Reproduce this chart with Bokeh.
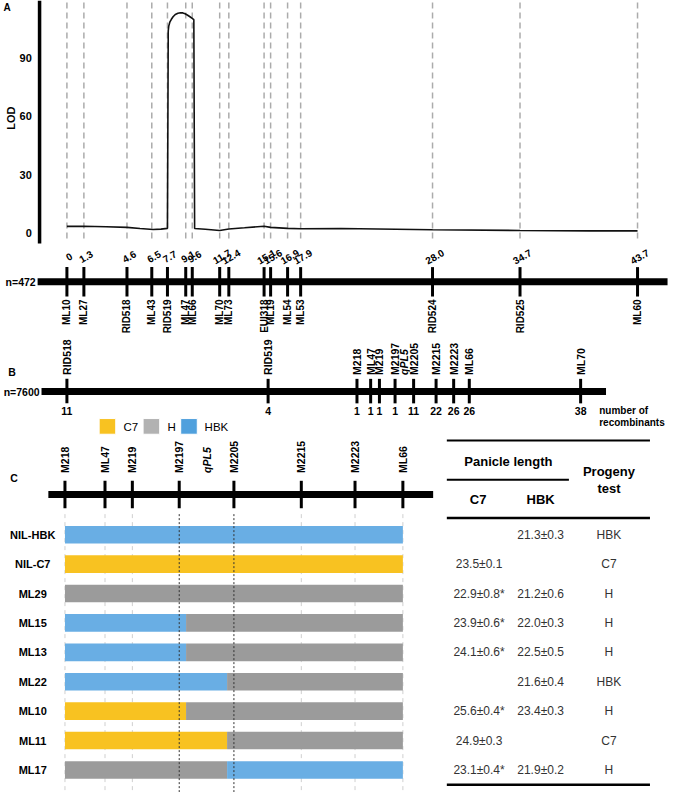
from bokeh.plotting import figure
from bokeh.models import Range1d
from bokeh.embed import file_html
from bokeh.resources import INLINE
from bokeh.core.properties import value
import math

# ---------------- DATA ----------------
# Panel A: genetic map (cM) and LOD profile
a_markers = ["ML10", "ML27", "RID518", "ML43", "RID519", "ML47", "ML66", "ML70", "ML73",
             "EUI318", "ML19", "ML54", "ML53", "RID524", "RID525", "ML60"]
a_cm = [0, 1.3, 4.6, 6.5, 7.7, 9.1, 9.6, 11.7, 12.4, 15.1, 15.6, 16.9, 17.9, 28.0, 34.7, 43.7]
a_cm_labels = ["0", "1.3", "4.6", "6.5", "7.7", "9.1", "9.6", "11.7", "12.4", "15.1", "15.6",
               "16.9", "17.9", "28.0", "34.7", "43.7"]
lod_cm = [0, 1.3, 3.0, 4.6, 5.6, 6.6, 7.2, 7.70, 7.76, 7.80, 7.88, 8.0, 8.13, 8.3, 8.5, 8.7,
          8.88, 9.05, 9.25, 9.45, 9.57, 9.72, 9.78, 10.6, 11.7, 12.4, 13.6, 15.1, 15.6, 16.9,
          17.9, 21.0, 28.0, 34.7, 40.0, 43.7]
lod_val = [3.3, 3.4, 3.1, 2.8, 2.2, 1.7, 1.9, 2.3, 104, 106.5, 108.5, 110, 111.3, 112.5, 113.1,
           113.4, 113.3, 112.9, 112.1, 111.2, 110.6, 109.8, 2.2, 1.8, 1.2, 2.0, 2.6, 3.4, 2.8,
           2.3, 2.1, 2.2, 1.6, 1.2, 1.0, 1.0]
lod_ticks = [0, 30, 60, 90]
a_n = "n=472"

# Panel B: fine map
b_markers = ["RID518", "RID519", "M218", "ML47", "M219", "M2197", "M2205", "M2215", "M2223",
             "ML66", "ML70"]
b_pos = [0, 206, 297, 311, 320, 336, 355, 378, 396, 412, 526]
b_recomb = ["11", "4", "1", "1", "1", "1", "11", "22", "26", "26", "38"]
b_qtl_pos = 345
b_n = "n=7600"

# Panel C: recombinant lines
c_markers = ["M218", "ML47", "M219", "M2197", "M2205", "M2215", "M2223", "ML66"]
c_pos = [0, 41, 69, 117, 173, 242, 297, 346]
c_qtl_pos = 145
lines = ["NIL-HBK", "NIL-C7", "ML29", "ML15", "ML13", "ML22", "ML10", "ML11", "ML17"]
seg_line = [0, 1, 2, 3, 3, 4, 4, 5, 5, 6, 6, 7, 7, 8, 8]
seg_start = [0, 0, 0, 0, 124, 0, 124, 0, 166, 0, 124, 0, 166, 0, 166]
seg_end = [346, 346, 346, 124, 346, 124, 346, 166, 346, 124, 346, 166, 346, 166, 346]
seg_geno = ["HBK", "C7", "H", "HBK", "H", "HBK", "H", "HBK", "H", "C7", "H", "C7", "H", "H", "HBK"]
genotypes = ["C7", "H", "HBK"]
geno_colors = {"C7": "#F8C221", "H": "#9B9B9B", "HBK": "#69AEE4"}
legend_colors = ["#F8C221", "#B2B2B2", "#4FA0DD"]

c7_len = ["", "23.5±0.1", "22.9±0.8*", "23.9±0.6*", "24.1±0.6*", "", "25.6±0.4*", "24.9±0.3", "23.1±0.4*"]
hbk_len = ["21.3±0.3", "", "21.2±0.6", "22.0±0.3", "22.5±0.5", "21.6±0.4", "23.4±0.3", "", "21.9±0.2"]
progeny = ["HBK", "C7", "H", "H", "H", "HBK", "H", "C7", "H"]

# ---------------- FIGURE ----------------
FONT = value("Liberation Sans")
p = figure(width=669, height=792, x_range=Range1d(0, 685), y_range=Range1d(808, 0),
           output_backend="svg", toolbar_location=None, x_axis_type=None, y_axis_type=None,
           min_border=0)
p.outline_line_color = None
p.background_fill_color = "white"
p.border_fill_color = "white"

px_per_cm = 13.37
p.extra_x_ranges = {
    "cm": Range1d(-68 / px_per_cm, (685 - 68) / px_per_cm),
    "b": Range1d(-68, 685 - 68),
    "c": Range1d(-66, 685 - 66),
}
p.extra_y_ranges = {
    "lod": Range1d((237 - 808) / 1.98, 237 / 1.98),
    "row": Range1d((808 - 545) / 30.0, (0 - 545) / 30.0),
}

def txt(x, y, t, size="10px", style="bold", align="left", base="middle", angle=0, color="black", **kw):
    p.text(x=x, y=y, text=t, text_font=FONT, text_font_size=size, text_font_style=style,
           text_align=align, text_baseline=base, angle=angle, text_color=color, **kw)

# ---------------- PANEL A ----------------
txt([3], [7], ["A"], size="10px")
# dashed guide lines
p.segment(x0=a_cm, x1=a_cm, y0=[2] * len(a_cm), y1=[247] * len(a_cm), x_range_name="cm",
          line_color="#ABABAB", line_width=1.5, line_dash="6 4")
# LOD axis
p.segment(x0=[40], x1=[40], y0=[0], y1=[248], line_color="black", line_width=3.5)
txt([32] * len(lod_ticks), lod_ticks, [str(v) for v in lod_ticks], size="11px", align="right",
    y_range_name="lod")
txt([11], [120], ["LOD"], size="11px", align="center", angle=math.pi / 2)
# LOD curve
p.line(lod_cm, lod_val, x_range_name="cm", y_range_name="lod", line_color="#111111", line_width=1.6)

# genetic map
p.segment(x0=[38], x1=[683], y0=[287], y1=[287], line_color="black", line_width=7)
p.segment(x0=a_cm, x1=a_cm, y0=[272] * len(a_cm), y1=[302] * len(a_cm), x_range_name="cm",
          line_color="black", line_width=3)
txt([36], [287], [a_n], size="10.5px", align="right")
txt(a_cm, [261] * len(a_cm), a_cm_labels, size="10px", align="center", angle=math.radians(30),
    x_range_name="cm", x_offset=2)
txt(a_cm, [305] * len(a_cm), a_markers, size="10px", align="right", angle=math.pi / 2,
    x_range_name="cm")

# ---------------- PANEL B ----------------
txt([8], [379], ["B"], size="10.5px")
p.segment(x0=[42], x1=[620], y0=[399], y1=[399], line_color="black", line_width=7)
p.segment(x0=b_pos, x1=b_pos, y0=[386] * len(b_pos), y1=[411] * len(b_pos), x_range_name="b",
          line_color="black", line_width=3)
txt([40], [399], [b_n], size="10.5px", align="right")
txt(b_pos, [382] * len(b_pos), b_markers, size="10.5px", align="left", angle=math.pi / 2,
    x_range_name="b")
txt([b_qtl_pos], [382], ["qPL5"], size="10.5px", style="bold italic", align="left",
    angle=math.pi / 2, x_range_name="b")
txt(b_pos, [419] * len(b_pos), b_recomb, size="10.5px", align="center", x_range_name="b")
txt([613, 613], [418, 431], ["number of", "recombinants"], size="10px")

# legend
p.rect(x=[109.5, 154.5, 193], y=[434.5] * 3, width=[17] * 3, height=[16] * 3,
       fill_color=legend_colors, line_color="white", line_width=1)
txt([126, 171, 209], [435] * 3, genotypes, size="11.5px", style="normal")

# ---------------- PANEL C ----------------
txt([10], [487], ["C"], size="10.5px")
p.segment(x0=[49], x1=[443], y0=[504], y1=[504], line_color="black", line_width=7)
p.segment(x0=c_pos, x1=c_pos, y0=[490] * len(c_pos), y1=[518] * len(c_pos), x_range_name="c",
          line_color="black", line_width=3)
txt(c_pos, [482] * len(c_pos), c_markers, size="10.5px", align="left", angle=math.pi / 2,
    x_range_name="c")
txt([c_qtl_pos], [482], ["qPL5"], size="10.5px", style="bold italic", align="left",
    angle=math.pi / 2, x_range_name="c")

# guide lines below the map
light = [c for c, m in zip(c_pos, c_markers) if m not in ("M2197", "M2205")]
dark = [c for c, m in zip(c_pos, c_markers) if m in ("M2197", "M2205")]
p.segment(x0=light, x1=light, y0=[524] * len(light), y1=[808] * len(light), x_range_name="c",
          line_color="#CFCFCF", line_width=1, line_dash="4 4")

# genotype bars
p.hbar(y=seg_line, left=seg_start, right=seg_end, height=0.6,
       fill_color=[geno_colors[g] for g in seg_geno], line_color=None,
       x_range_name="c", y_range_name="row")
p.segment(x0=dark, x1=dark, y0=[524] * len(dark), y1=[808] * len(dark), x_range_name="c",
          line_color="#333333", line_width=1, line_dash="2 2")

rows = list(range(len(lines)))
txt([33] * len(lines), rows, lines, size="11px", align="center", y_range_name="row")

# ---------------- TABLE ----------------
p.segment(x0=[457, 457, 457, 457], x1=[665, 582, 665, 665], y0=[449, 489, 528, 800],
          y1=[449, 489, 528, 800], line_color="black", line_width=[2, 2, 2.5, 2.5])
txt([520], [470], ["Panicle length"], size="13px", align="center")
txt([623, 623], [481, 498], ["Progeny", "test"], size="13px", align="center")
txt([489, 553], [509, 509], ["C7", "HBK"], size="13px", align="center")
txt([490] * len(rows), rows, c7_len, size="12px", style="normal", align="center",
    color="#333333", y_range_name="row")
txt([553] * len(rows), rows, hbk_len, size="12px", style="normal", align="center",
    color="#333333", y_range_name="row")
txt([623] * len(rows), rows, progeny, size="12px", style="normal", align="center",
    color="#333333", y_range_name="row")

open("out.html", "w").write(file_html(p, INLINE))
